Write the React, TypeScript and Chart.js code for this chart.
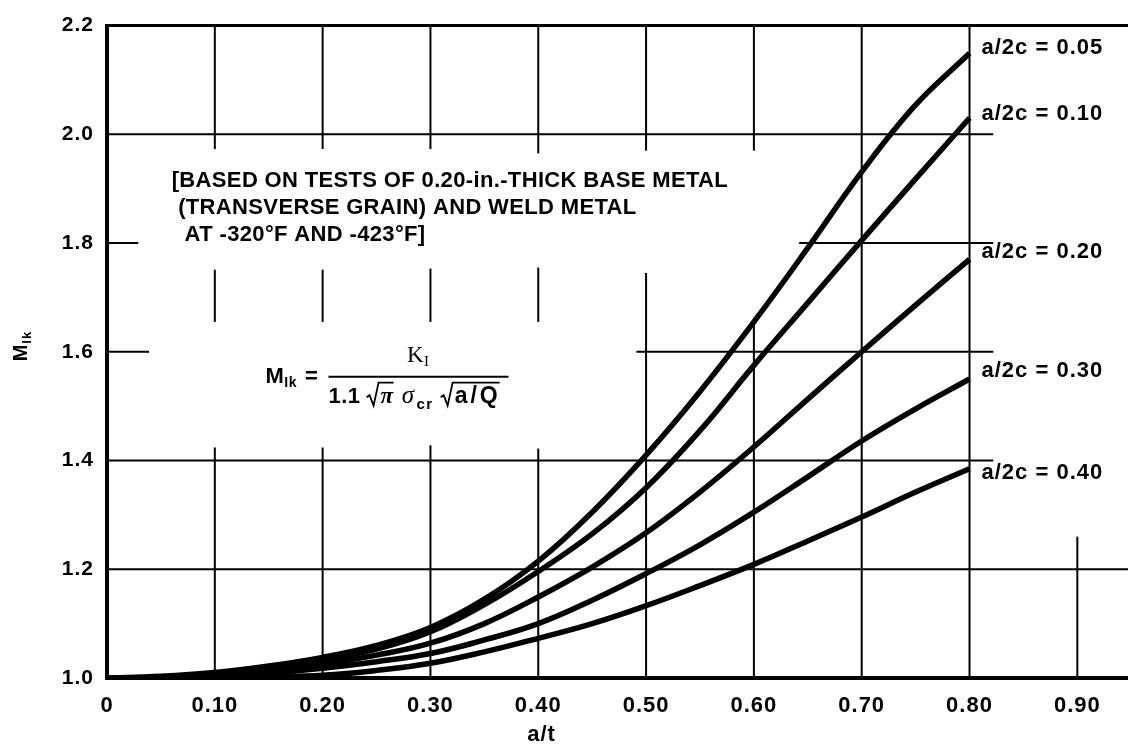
import React, { useEffect, useRef } from "react";
import { Chart, registerables } from "chart.js";

Chart.register(...registerables);

// ---- data ----
const aOverT = [0, 0.05, 0.1, 0.15, 0.2, 0.25, 0.3, 0.35, 0.4, 0.45, 0.5, 0.55, 0.6, 0.65, 0.7, 0.75, 0.8];
const series005 = [1.0, 1.003, 1.01, 1.022, 1.038, 1.06, 1.093, 1.145, 1.215, 1.305, 1.41, 1.527, 1.655, 1.791, 1.931, 2.054, 2.149];
const series010 = [1.0, 1.002, 1.008, 1.018, 1.033, 1.053, 1.085, 1.135, 1.196, 1.265, 1.35, 1.455, 1.575, 1.69, 1.805, 1.918, 2.03];
const series020 = [1.0, 1.001, 1.005, 1.013, 1.025, 1.042, 1.064, 1.1, 1.149, 1.204, 1.267, 1.342, 1.425, 1.513, 1.6, 1.686, 1.77];
const series030 = [1.0, 1.0, 1.003, 1.009, 1.018, 1.03, 1.045, 1.07, 1.1, 1.143, 1.192, 1.245, 1.305, 1.37, 1.436, 1.495, 1.55];
const series040 = [1.0, 1.0, 1.0, 1.002, 1.005, 1.014, 1.027, 1.048, 1.073, 1.1, 1.133, 1.17, 1.209, 1.252, 1.296, 1.342, 1.385];
const seriesLabels = ["a/2c = 0.05", "a/2c = 0.10", "a/2c = 0.20", "a/2c = 0.30", "a/2c = 0.40"];

const xTicks = [0, 0.1, 0.2, 0.3, 0.4, 0.5, 0.6, 0.7, 0.8, 0.9];
const xTickLabels = ["0", "0.10", "0.20", "0.30", "0.40", "0.50", "0.60", "0.70", "0.80", "0.90"];
const yTicks = [1.0, 1.2, 1.4, 1.6, 1.8, 2.0, 2.2];
const yTickLabels = ["1.0", "1.2", "1.4", "1.6", "1.8", "2.0", "2.2"];

const noteLines = [
  "[BASED ON TESTS OF 0.20-in.-THICK BASE METAL",
  " (TRANSVERSE GRAIN) AND WELD METAL",
  "  AT -320\u00B0F AND -423\u00B0F]",
];
const xTitle = "a/t";

// ---- chart structure: partial grid of the original drawing (data units) ----
// [yValue, xFrom, xTo, lineWidth]
const hSegments: number[][] = [
  [2.2, 0, 0.95, 3],
  [2.0, 0, 0.822, 2],
  [1.8, 0, 0.029, 2],
  [1.8, 0.642, 0.822, 2],
  [1.6, 0, 0.039, 2],
  [1.6, 0.491, 0.822, 2],
  [1.4, 0, 0.822, 2],
  [1.2, 0, 0.95, 2],
  [1.0, 0, 0.95, 4],
];
// [xValue, yFrom, yTo, lineWidth]
const vSegments: number[][] = [
  [0, 1.0, 2.2, 4],
  [0.1, 1.973, 2.2, 2], [0.1, 1.655, 1.751, 2], [0.1, 1.0, 1.424, 2],
  [0.2, 1.973, 2.2, 2], [0.2, 1.655, 1.751, 2], [0.2, 1.0, 1.424, 2],
  [0.3, 1.973, 2.2, 2], [0.3, 1.655, 1.753, 2], [0.3, 1.0, 1.428, 2],
  [0.4, 1.965, 2.2, 2], [0.4, 1.655, 1.755, 2], [0.4, 1.0, 1.422, 2],
  [0.5, 1.97, 2.2, 2], [0.5, 1.0, 1.745, 2],
  [0.6, 1.97, 2.2, 2], [0.6, 1.0, 1.656, 2],
  [0.7, 1.0, 2.2, 2],
  [0.8, 1.0, 2.2, 2],
  [0.9, 1.0, 1.26, 2],
];
// small vertical nudges (px) of the end-of-curve labels, as in the original
const labelNudge = [-5, -4, -7, -8, 4];

const SANS = "'Liberation Sans', Arial, sans-serif";
const SERIF = "'Liberation Serif', 'Times New Roman', serif";

function drawRadical(ctx: CanvasRenderingContext2D, x: number, top: number, bottom: number, width: number) {
  const mid = (top + bottom) / 2 + 3;
  ctx.beginPath();
  ctx.moveTo(x, mid);
  ctx.lineTo(x + 3, mid - 2);
  ctx.lineTo(x + 7, bottom);
  ctx.lineTo(x + 12, top);
  ctx.lineTo(x + 13 + width, top);
  ctx.lineWidth = 1.8;
  ctx.strokeStyle = "#000";
  ctx.stroke();
  return x + 14;
}

const overlayPlugin = {
  id: "overlay",
  beforeDraw(chart: any) {
    (chart.ctx as any).letterSpacing = "1px";
  },
  beforeDatasetsDraw(chart: any) {
    const ctx: CanvasRenderingContext2D = chart.ctx;
    const xs = chart.scales.x;
    const ys = chart.scales.y;
    ctx.save();
    ctx.strokeStyle = "#000";
    ctx.lineCap = "butt";
    for (const [v, a, b, w] of hSegments) {
      const y = ys.getPixelForValue(v);
      ctx.lineWidth = w;
      ctx.beginPath();
      ctx.moveTo(xs.getPixelForValue(a) - (a === 0 ? 2 : 0), y);
      ctx.lineTo(xs.getPixelForValue(b), y);
      ctx.stroke();
    }
    for (const [v, a, b, w] of vSegments) {
      const x = xs.getPixelForValue(v);
      ctx.lineWidth = w;
      ctx.beginPath();
      ctx.moveTo(x, ys.getPixelForValue(a) + (a === 1.0 ? 2 : 0));
      ctx.lineTo(x, ys.getPixelForValue(b) - (b === 2.2 ? 1.5 : 0));
      ctx.stroke();
    }
    ctx.restore();
  },
  afterDatasetsDraw(chart: any) {
    const ctx: any = chart.ctx;
    const xs = chart.scales.x;
    const ys = chart.scales.y;
    ctx.save();
    ctx.fillStyle = "#000";
    ctx.strokeStyle = "#000";

    // curve labels at the end of each curve
    ctx.letterSpacing = "1px";
    ctx.font = `bold 22px ${SANS}`;
    ctx.textBaseline = "middle";
    ctx.textAlign = "left";
    chart.data.datasets.forEach((ds: any, i: number) => {
      const meta = chart.getDatasetMeta(i);
      const pt = meta.data[meta.data.length - 1];
      ctx.fillText(seriesLabels[i], pt.x + 12, pt.y + labelNudge[i]);
    });

    // note block
    const nx = xs.getPixelForValue(0.06);
    const ny = ys.getPixelForValue(1.915);
    ctx.letterSpacing = "0.35px";
    ctx.font = `bold 22px ${SANS}`;
    noteLines.forEach((line, i) => {
      ctx.fillText(line, nx, ny + i * 27);
    });

    // formula  M_Ik = K_I / (1.1 sqrt(pi) sigma_cr sqrt(a/Q))
    ctx.letterSpacing = "0.5px";
    const fx = xs.getPixelForValue(0.147);
    const fy = ys.getPixelForValue(1.558);
    ctx.textBaseline = "alphabetic";
    ctx.font = `bold 22px ${SANS}`;
    ctx.fillText("M", fx, fy + 8);
    let cx = fx + ctx.measureText("M").width;
    ctx.font = `bold 14px ${SANS}`;
    ctx.fillText("Ik", cx, fy + 12);
    cx += ctx.measureText("Ik").width + 8;
    ctx.font = `bold 22px ${SANS}`;
    ctx.fillText("=", cx, fy + 8);
    cx += ctx.measureText("=").width + 7;
    const barL = Math.max(cx, fx + 63);
    const barR = barL + 180;
    const barY = fy + 2;
    ctx.lineWidth = 2;
    ctx.beginPath();
    ctx.moveTo(barL, barY);
    ctx.lineTo(barR, barY);
    ctx.stroke();
    // numerator
    const numX = (barL + barR) / 2;
    ctx.font = `23px ${SERIF}`;
    const kW = ctx.measureText("K").width;
    ctx.fillText("K", numX - kW / 2 - 3, barY - 15);
    ctx.font = `15px ${SERIF}`;
    ctx.fillText("I", numX + kW / 2 - 3, barY - 11);
    // denominator
    const dBase = barY + 26;
    let dx = barL;
    ctx.font = `bold 22px ${SANS}`;
    ctx.fillText("1.1", dx, dBase);
    dx += ctx.measureText("1.1").width + 6;
    ctx.font = `italic bold 23px ${SERIF}`;
    const piW = ctx.measureText("\u03C0").width;
    dx = drawRadical(ctx, dx, dBase - 20, dBase + 3, piW + 1);
    ctx.fillText("\u03C0", dx, dBase);
    dx += piW + 8;
    ctx.font = `italic 25px ${SERIF}`;
    ctx.fillText("\u03C3", dx, dBase);
    dx += ctx.measureText("\u03C3").width + 2;
    ctx.letterSpacing = "1.5px";
    ctx.font = `bold 15px ${SANS}`;
    ctx.fillText("cr", dx, dBase + 6);
    dx += ctx.measureText("cr").width + 7;
    ctx.letterSpacing = "3px";
    ctx.font = `bold 23px ${SANS}`;
    const aqW = ctx.measureText("a/Q").width;
    dx = drawRadical(ctx, dx, dBase - 20, dBase + 3, aqW);
    ctx.fillText("a/Q", dx, dBase);

    // axis titles
    ctx.letterSpacing = "1px";
    ctx.font = `bold 22px ${SANS}`;
    ctx.textAlign = "center";
    ctx.textBaseline = "middle";
    ctx.fillText(xTitle, xs.getPixelForValue(0.403), chart.height - 15);

    ctx.save();
    ctx.translate(21, ys.getPixelForValue(1.61));
    ctx.rotate(-Math.PI / 2);
    ctx.textAlign = "left";
    ctx.textBaseline = "alphabetic";
    ctx.font = `bold 20px ${SANS}`;
    const mW = ctx.measureText("M").width;
    ctx.fillText("M", -15, 6);
    ctx.font = `bold 13px ${SANS}`;
    ctx.fillText("Ik", -15 + mW, 10);
    ctx.restore();

    ctx.restore();
  },
};

export default function App() {
  const canvasRef = useRef<HTMLCanvasElement | null>(null);

  useEffect(() => {
    document.body.style.margin = "0";
    const canvas = canvasRef.current;
    if (!canvas) return;
    const all = [series005, series010, series020, series030, series040];
    const chart = new Chart(canvas, {
      type: "line",
      data: {
        datasets: all.map((s, i) => ({
          label: seriesLabels[i],
          data: aOverT.map((x, j) => ({ x, y: s[j] })),
          borderColor: "#000",
          backgroundColor: "#000",
          borderWidth: 5.5,
          pointRadius: 0,
          tension: 0.4,
          fill: false,
        })),
      },
      options: {
        animation: false,
        responsive: false,
        devicePixelRatio: 1,
        layout: { padding: { top: 20, right: 0, bottom: 0, left: 0 } },
        plugins: {
          legend: { display: false },
          tooltip: { enabled: false },
        },
        scales: {
          x: {
            type: "linear",
            min: 0,
            max: 0.947,
            afterBuildTicks: (s: any) => {
              s.ticks = xTicks.map((v) => ({ value: v }));
            },
            afterFit: (s: any) => {
              s.height = 72;
            },
            ticks: {
              autoSkip: false,
              maxRotation: 0,
              padding: 15,
              color: "#000",
              font: { family: SANS, size: 22, weight: "bold" },
              callback: (v: any) => {
                const i = xTicks.findIndex((t) => Math.abs(t - Number(v)) < 1e-6);
                return i >= 0 ? xTickLabels[i] : "";
              },
            },
            grid: { display: false, drawTicks: false },
            border: { display: false },
          },
          y: {
            type: "linear",
            min: 1.0,
            max: 2.2,
            afterBuildTicks: (s: any) => {
              s.ticks = yTicks.map((v) => ({ value: v }));
            },
            afterFit: (s: any) => {
              s.width = 107;
            },
            ticks: {
              autoSkip: false,
              padding: 13,
              color: "#000",
              font: { family: SANS, size: 21, weight: "bold" },
              callback: (v: any) => {
                const i = yTicks.findIndex((t) => Math.abs(t - Number(v)) < 1e-6);
                return i >= 0 ? yTickLabels[i] : "";
              },
            },
            grid: { display: false, drawTicks: false },
            border: { display: false },
          },
        },
      },
      plugins: [overlayPlugin],
    });
    return () => chart.destroy();
  }, []);

  return (
    <div style={{ width: 1128, height: 750, background: "#fff" }}>
      <canvas ref={canvasRef} width={1128} height={750} style={{ display: "block" }} />
    </div>
  );
}
